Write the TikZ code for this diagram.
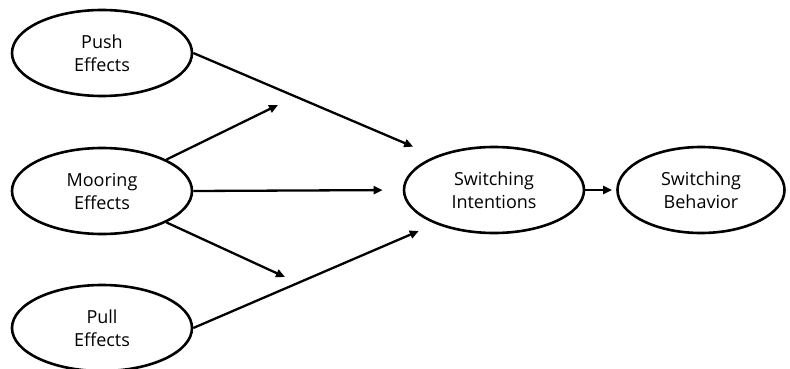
\documentclass[tikz,border=0pt]{standalone}
\usepackage{fontspec}
\setmainfont{Open Sans}
\usepackage{tikz}
\usetikzlibrary{arrows.meta,shapes.geometric}
\tikzset{>={Triangle[length=9pt,width=8pt]}}

\begin{document}
\begin{tikzpicture}[x=1pt,y=-1pt,
		construct/.style={ellipse, draw=black, line width=2.6pt, minimum width=180pt, minimum height=86pt, inner sep=0pt, align=center, font=\fontsize{18}{23}\selectfont},
		path/.style={line width=2.3pt}]
		\useasboundingbox (0,0) rectangle (790,369);
		\node[construct] (1) at (102,53) {Push\\Effects};
		\node[construct] (2) at (102,191) {Mooring\\Effects};
		\node[construct] (3) at (102,328) {Pull\\Effects};
		\node[construct] (4) at (494,190) {Switching\\Intentions};
		\node[construct, minimum width=167pt] (5) at (701,190) {Switching\\Behavior};
		\coordinate (6) at (278,105);
		\coordinate (7) at (285,277);
		
		\draw[path, ->, shorten >=24pt] (1.east) -- (4.150);
		\draw[path, ->, shorten >=20pt] (2.east) -- (4.west);
		\draw[path, ->, shorten >=18pt] (3.east) -- (4.210);
		\draw[path, ->] (2.26) -- (6);
		\draw[path, ->] (2.-26) -- (7);
		\draw[path, ->, shorten >=4pt] (4.east) -- (5.west);
		
	\end{tikzpicture}
\end{document}
